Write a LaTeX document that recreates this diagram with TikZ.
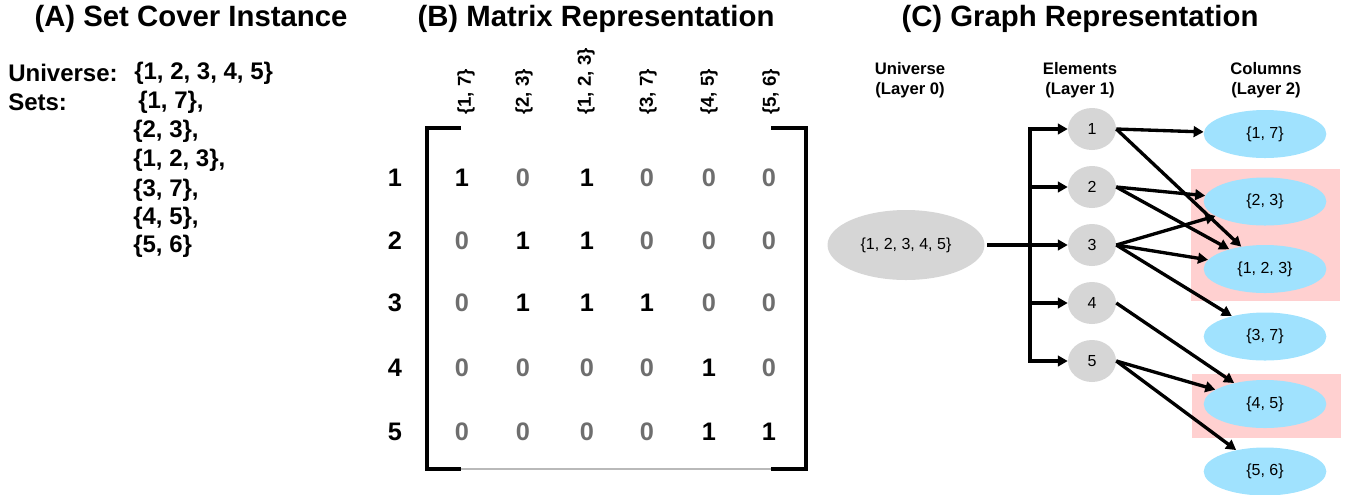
\documentclass[tikz,border=0pt]{standalone}
\usepackage{fontspec}
\setmainfont{Liberation Sans}
\usetikzlibrary{shapes.geometric,arrows.meta}
\definecolor{zerogray}{RGB}{110,110,110}
\definecolor{elemgray}{RGB}{214,214,214}
\definecolor{colblue}{RGB}{160,226,254}
\definecolor{coverpink}{RGB}{255,208,208}
\newcommand{\zr}{\textcolor{zerogray}{0}}

\begin{document}
\begin{tikzpicture}[x=0.75pt,y=-0.75pt]
                        \tikzstyle{title}=[font=\fontsize{22}{26}\selectfont\bfseries]
                        \tikzstyle{txt}=[font=\fontsize{18}{22}\selectfont\bfseries, anchor=west, inner sep=0]
                        \tikzstyle{entry}=[font=\fontsize{19}{22}\selectfont\bfseries]
                        \tikzstyle{collabel}=[font=\fontsize{14}{16}\selectfont\bfseries, rotate=90, anchor=west, inner sep=0]
                        \tikzstyle{head}=[font=\fontsize{12.5}{15}\selectfont\bfseries, align=center]
                        \tikzstyle{elem}=[ellipse, fill=elemgray, minimum width=36pt, minimum height=31.5pt, inner sep=0, font=\fontsize{12}{14}\selectfont]
                        \tikzstyle{col}=[ellipse, fill=colblue, minimum width=92pt, minimum height=36pt, inner sep=0, font=\fontsize{12}{14}\selectfont]
                        \tikzstyle{arr}=[line width=2.5pt, -{Triangle[length=7.5pt,width=8pt]}]
                        \useasboundingbox (0,0) rectangle (1351,494);
                        % titles
                        \node[title] (ta) at (191,19) {(A) Set Cover Instance};
                        \node[title] (tb) at (596,19) {(B) Matrix Representation};
                        \node[title] (tc) at (1080,19) {(C) Graph Representation};
                        % (A)
                        \node[txt] (uname) at (8,73) {Universe:};
                        \node[txt] (uset) at (134,73) {\{1, 2, 3, 4, 5\}};
                        \node[txt] (sname) at (8,102) {Sets:};
                        \node[txt] (s1) at (138,102) {\{1, 7\},};
                        \node[txt] (s2) at (133,131) {\{2, 3\},};
                        \node[txt] (s3) at (133,160) {\{1, 2, 3\},};
                        \node[txt] (s4) at (133,190) {\{3, 7\},};
                        \node[txt] (s5) at (133,218) {\{4, 5\},};
                        \node[txt] (s6) at (133,246) {\{5, 6\}};
                        % (B)
                        \node[collabel] (l1) at (466,115) {\{1, 7\}};
                        \node[collabel] (l2) at (524,115) {\{2, 3\}};
                        \node[collabel] (l3) at (586,115) {\{1, 2, 3\}};
                        \node[collabel] (l4) at (648,115) {\{3, 7\}};
                        \node[collabel] (l5) at (709,115) {\{4, 5\}};
                        \node[collabel] (l6) at (771,115) {\{5, 6\}};
                        \draw[line width=2.5pt] (461,128) -- (427,128) -- (427,469) -- (461,469);
                        \draw[line width=2.5pt] (771,128) -- (806,128) -- (806,469) -- (771,469);
                        \draw[gray!55, line width=0.8pt] (461,469) -- (771,469);
                        \node[entry] (r1) at (395,178) {1};
                        \node[entry] (r2) at (395,241) {2};
                        \node[entry] (r3) at (395,303) {3};
                        \node[entry] (r4) at (395,368) {4};
                        \node[entry] (r5) at (395,432) {5};
                        \node[entry] (m11) at (462,178) {1};
                        \node[entry] (m12) at (523,178) {\zr};
                        \node[entry] (m13) at (587,178) {1};
                        \node[entry] (m14) at (647,178) {\zr};
                        \node[entry] (m15) at (709,178) {\zr};
                        \node[entry] (m16) at (769,178) {\zr};
                        \node[entry] (m21) at (462,241) {\zr};
                        \node[entry] (m22) at (523,241) {1};
                        \node[entry] (m23) at (587,241) {1};
                        \node[entry] (m24) at (647,241) {\zr};
                        \node[entry] (m25) at (709,241) {\zr};
                        \node[entry] (m26) at (769,241) {\zr};
                        \node[entry] (m31) at (462,303) {\zr};
                        \node[entry] (m32) at (523,303) {1};
                        \node[entry] (m33) at (587,303) {1};
                        \node[entry] (m34) at (647,303) {1};
                        \node[entry] (m35) at (709,303) {\zr};
                        \node[entry] (m36) at (769,303) {\zr};
                        \node[entry] (m41) at (462,368) {\zr};
                        \node[entry] (m42) at (523,368) {\zr};
                        \node[entry] (m43) at (587,368) {\zr};
                        \node[entry] (m44) at (647,368) {\zr};
                        \node[entry] (m45) at (709,368) {1};
                        \node[entry] (m46) at (769,368) {\zr};
                        \node[entry] (m51) at (462,432) {\zr};
                        \node[entry] (m52) at (523,432) {\zr};
                        \node[entry] (m53) at (587,432) {\zr};
                        \node[entry] (m54) at (647,432) {\zr};
                        \node[entry] (m55) at (709,432) {1};
                        \node[entry] (m56) at (769,432) {1};
                        % (C)
                        \node[head] (h0) at (910,80) {Universe\\(Layer 0)};
                        \node[head] (h1) at (1080,80) {Elements\\(Layer 1)};
                        \node[head] (h2) at (1266,80) {Columns\\(Layer 2)};
                        \fill[coverpink] (1191,169) rectangle (1340,301);
                        \fill[coverpink] (1192,374) rectangle (1341,438);
                        \node[ellipse, fill=elemgray, minimum width=117.75pt, minimum height=52.5pt, inner sep=0, font=\fontsize{12}{14}\selectfont] (uni) at (906,245) {\{1, 2, 3, 4, 5\}};
                        \node[elem] (e1) at (1092,129) {1};
                        \node[elem] (e2) at (1092,187) {2};
                        \node[elem] (e3) at (1092,245) {3};
                        \node[elem] (e4) at (1092,303) {4};
                        \node[elem] (e5) at (1092,361) {5};
                        \node[col] (c1) at (1265,134) {\{1, 7\}};
                        \node[col] (c2) at (1265,201.5) {\{2, 3\}};
                        \node[col] (c3) at (1265,269) {\{1, 2, 3\}};
                        \node[col] (c4) at (1265,336.5) {\{3, 7\}};
                        \node[col] (c5) at (1265,404) {\{4, 5\}};
                        \node[col] (c6) at (1265,471.5) {\{5, 6\}};
                        \coordinate (bustop) at (1030,129);
                        \coordinate (busbot) at (1030,361);
                        \draw[line width=2.5pt, line cap=rect] (bustop) -- (busbot);
                        \draw[arr, shorten <=2pt] (uni) -- (e3);
                        \draw[arr] (bustop) -- (e1);
                        \draw[arr] (bustop |- e2) -- (e2);
                        \draw[arr] (bustop |- e4) -- (e4);
                        \draw[arr] (busbot) -- (e5);
                        \draw[arr] (e1.east) -- (c1);
                        \draw[arr] (e1.east) -- (c3);
                        \draw[arr] (e2.east) -- (c2);
                        \draw[arr] (e2.east) -- (c3);
                        \draw[arr] (e3.east) -- (c2);
                        \draw[arr] (e3.east) -- (c3);
                        \draw[arr] (e3.east) -- (c4);
                        \draw[arr] (e4.east) -- (c5);
                        \draw[arr] (e5.east) -- (c5);
                        \draw[arr] (e5.east) -- (c6);
                    \end{tikzpicture}
\end{document}
